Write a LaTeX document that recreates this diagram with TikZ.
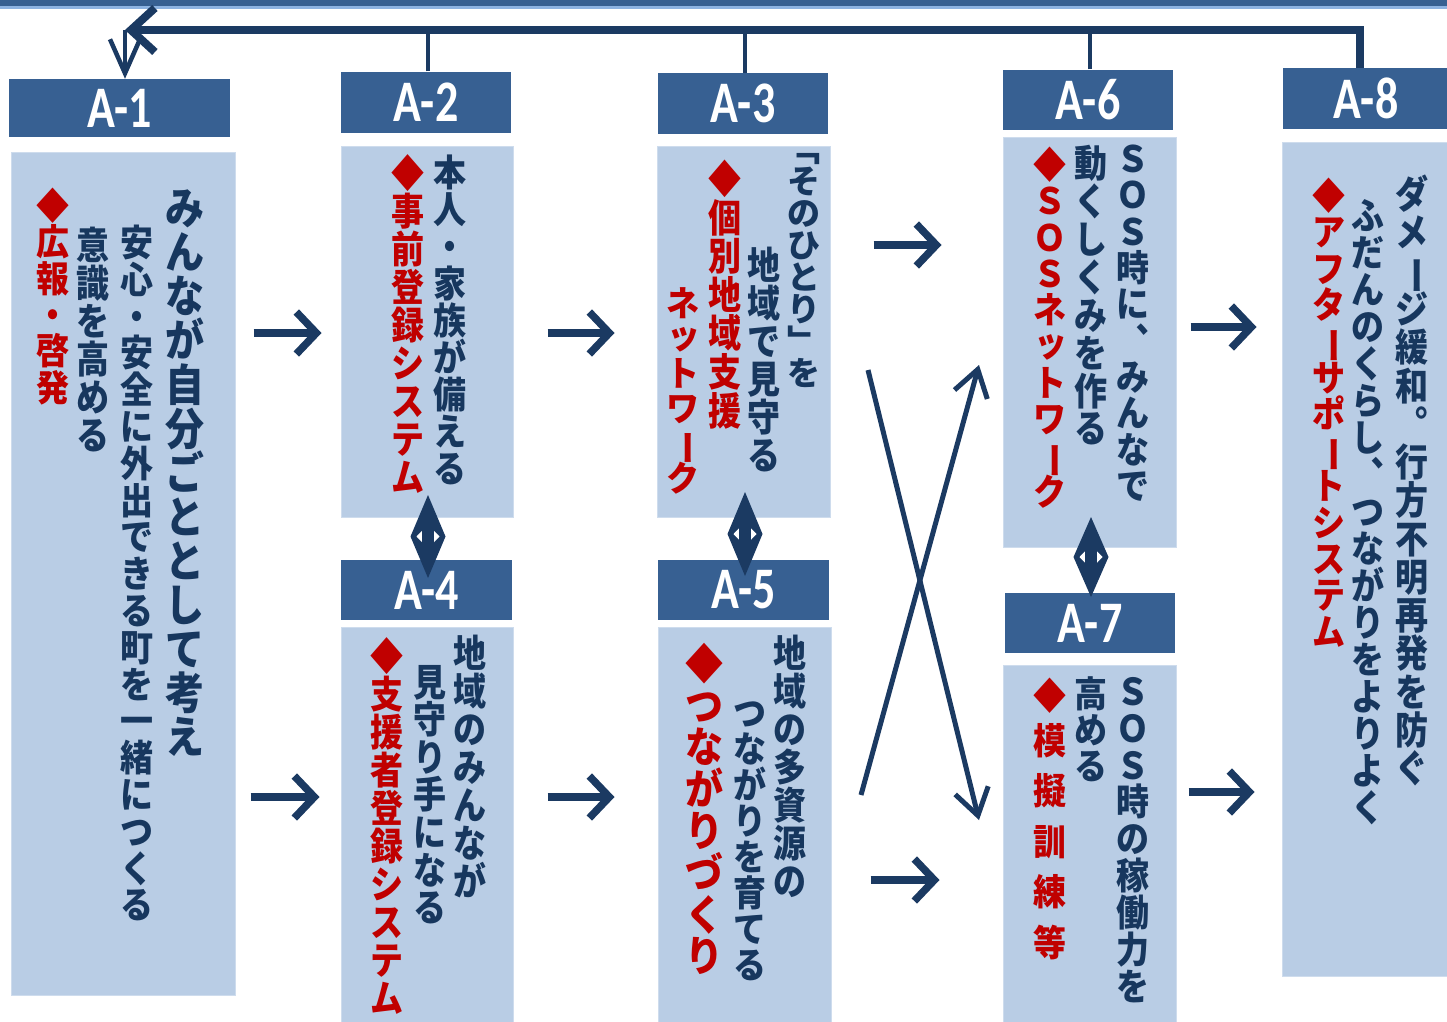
\documentclass[tikz,border=0pt]{standalone}
\usepackage{fontspec}
\usepackage{graphicx}
\usetikzlibrary{arrows.meta}
\newfontfamily\jp{Noto Sans CJK JP}
\newfontfamily\hdrfont{Carlito}
\definecolor{hdr}{HTML}{376092}
\definecolor{bodyc}{HTML}{B9CDE5}
\definecolor{navy}{HTML}{17375E}
\definecolor{arr}{HTML}{1B3A62}
\definecolor{redc}{HTML}{C00000}
\definecolor{lightline}{HTML}{8DB3E2}
% one upright character per line
\newcommand\vchar[1]{%
  \ifx#1ー\hbox to 1em{\hss\rotatebox[origin=c]{-90}{ー}\hss}%
  \else\ifx#1ッ\hbox to 1em{\hss\kern0.05em\raisebox{0.1em}{ッ}\hss}%
  \else\hbox to 1em{\hss#1\hss}\fi\fi}
\def\vstloop#1{\ifx\relax#1\else\vchar{#1}\expandafter\vstloop\fi}
% size, vertical stretch, pitch, characters
\newcommand\vstk[4]{\scalebox{1}[#2]{\fontsize{#1}{#1}\selectfont
  \vbox{\baselineskip=#3pt\lineskiplimit=-\maxdimen\lineskip=0pt\relax\vstloop#4\relax}}}
\newcommand\hl[1]{\scalebox{1}[1.28]{#1}}
\newcommand\dbl[3]{%
  \fill[arr] (#1,#2) -- (#1+17.5,{(#2+#3)/2}) -- (#1,#3) -- (#1-17.5,{(#2+#3)/2}) -- cycle;
  \fill[white] (#1,{(#2+#3)/2-12}) -- (#1+11.5,{(#2+#3)/2}) -- (#1,{(#2+#3)/2+12}) -- (#1-11.5,{(#2+#3)/2}) -- cycle;
  \fill[arr] (#1-6,{(#2+#3)/2-16}) rectangle (#1+6,{(#2+#3)/2+16});
}
\begin{document}
\begin{tikzpicture}[x=1pt,y=-1pt,
  hdrbox/.style={fill=hdr, text=white, inner sep=0, font=\hdrfont\bfseries\fontsize{46}{46}\selectfont},
  bodybox/.style={fill=bodyc, draw=bodyc!70!white, line width=1pt, inner sep=0},
  vcol/.style={anchor=north, inner sep=0, outer sep=0, font=\jp\bfseries, text=navy},
  vred/.style={vcol, text=redc},
  rarrow/.style={draw=arr, line width=7.5pt, -{Straight Barb[length=20pt,width=42pt]}},
  xarrow/.style={draw=arr, line width=5pt, -{Straight Barb[length=26pt,width=34pt]}},
  link/.style={draw=arr, line width=4pt}
]
\useasboundingbox (0,0) rectangle (1447,1021);
\clip (0,0) rectangle (1447,1021);
\fill[white] (0,0) rectangle (1447,1021);
\fill[hdr] (0,0) rectangle (1447,6);
\fill[lightline] (0,6) rectangle (1447,8.5);

% body boxes
\node[bodybox, minimum width=224, minimum height=843] (b1) at (123,573.5) {};
\node[bodybox, minimum width=172, minimum height=371] (b2) at (427,331.5) {};
\node[bodybox, minimum width=172, minimum height=400] (b4) at (427,827) {};
\node[bodybox, minimum width=173, minimum height=371] (b3) at (743.5,331.5) {};
\node[bodybox, minimum width=173, minimum height=400] (b5) at (744.5,827) {};
\node[bodybox, minimum width=173, minimum height=410] (b6) at (1089.5,342) {};
\node[bodybox, minimum width=173, minimum height=360] (b7) at (1089.5,845) {};
\node[bodybox, minimum width=166, minimum height=834] (b8) at (1365,559) {};

% headers
\node[hdrbox, minimum width=221, minimum height=58] (h1) at (119.5,108) {\hl{A-1}};
\node[hdrbox, minimum width=170, minimum height=61] (h2) at (426,102) {\hl{A-2}};
\node[hdrbox, minimum width=170, minimum height=61] (h3) at (743,103.5) {\hl{A-3}};
\node[hdrbox, minimum width=171, minimum height=60] (h4) at (426.5,590) {\hl{A-4}};
\node[hdrbox, minimum width=171, minimum height=60] (h5) at (743.5,590) {\hl{A-5}};
\node[hdrbox, minimum width=170, minimum height=60] (h6) at (1088,99.5) {\hl{A-6}};
\node[hdrbox, minimum width=170, minimum height=60] (h7) at (1090,623) {\hl{A-7}};
\node[hdrbox, minimum width=166, minimum height=61] (h8) at (1366,98.5) {\hl{A-8}};

% top feedback line
\coordinate (tl) at (125,30);
\draw[link] (h2.north -| 428,0) -- (428,30);
\draw[link] (h3.north -| 745,0) -- (745,30);
\draw[link] (h6.north -| 1090,0) -- (1090,30);
\draw[draw=arr, line width=8pt, -{Straight Barb[length=24pt,width=44pt]}] (h8.north -| 1360,0) |- (tl);
\draw[draw=arr, line width=4.5pt, -{Straight Barb[length=34pt,width=30pt]}] (tl) -- (tl |- h1.north);

% right arrows
\draw[rarrow, shorten <=18pt, shorten >=19pt] (b1.east |- 0,333) -- (b2.west |- 0,333);
\draw[rarrow, shorten <=15pt, shorten >=21pt] (b1.east |- 0,797) -- (b4.west |- 0,797);
\draw[rarrow, shorten <=34pt, shorten >=42pt] (b2.east |- 0,333) -- (b3.west |- 0,333);
\draw[rarrow, shorten <=34pt, shorten >=43pt] (b4.east |- 0,797) -- (b5.west |- 0,797);
\draw[rarrow, shorten <=43pt, shorten >=61pt] (b3.east |- 0,245) -- (b6.west |- 0,245);
\draw[rarrow, shorten <=39pt, shorten >=63pt] (b5.east |- 0,880) -- (b7.west |- 0,880);
\draw[rarrow, shorten <=14pt, shorten >=25pt] (b6.east |- 0,327) -- (b8.west |- 0,327);
\draw[rarrow, shorten <=12pt, shorten >=27pt] (b7.east |- 0,792) -- (b8.west |- 0,792);

% cross arrows
\coordinate (x1s) at (861,795);
\coordinate (x1e) at (979,365);
\coordinate (x2s) at (868,370);
\coordinate (x2e) at (979,820);
\draw[xarrow] (x1s) -- (x1e);
\draw[xarrow] (x2s) -- (x2e);

% double arrows
\dbl{428}{495}{578}
\dbl{745}{492}{576}
\dbl{1091}{517}{597}

% A-1 text
\node[vcol] (t11) at (185,190) {\vstk{39}{1.13}{39}{みんなが自分ごととして考え}};
\node[vcol] (t12) at (137,225) {\vstk{33}{1.115}{33}{安心・安全に外出できる町を一緒につくる}};
\node[vcol] (t13) at (93,227) {\vstk{33}{1.15}{33}{意識を高める}};
\node[vred] (t14) at (53,188) {\vstk{33}{1.1}{33}{◆広報・啓発}};
% A-2
\node[vcol] (t21) at (450,155) {\vstk{33}{1.12}{33}{本人・家族が備える}};
\node[vred] (t22) at (408,155) {\vstk{33}{1.15}{33}{◆事前登録システム}};
% A-4
\node[vcol] (t41) at (470,635) {\vstk{33}{1.15}{33}{地域のみんなが}};
\node[vcol] (t42) at (430,665) {\vstk{33}{1.14}{33}{見守り手になる}};
\node[vred] (t43) at (387,638) {\vstk{33}{1.15}{33}{◆支援者登録システム}};
% A-3
\node[vcol] (t31) at (804,153) {\vstk{33}{1.0}{32}{﹁そのひとり﹂を}};
\node[vcol] (t32) at (764,247) {\vstk{33}{1.15}{33}{地域で見守る}};
\node[vred] (t33) at (725,160) {\vstk{33}{1.17}{33}{◆個別地域支援}};
\node[vred] (t34) at (683,288) {\vstk{33}{1.06}{33}{ネットワーク}};
% A-5
\node[vcol] (t51) at (790,635) {\vstk{33}{1.15}{33}{地域の多資源の}};
\node[vcol] (t52) at (750,702) {\vstk{33}{1.09}{33}{つながりを育てる}};
\node[vred] (t53) at (704,643) {\vstk{38}{1.1}{38}{◆つながりづくり}};
% A-6
\node[vcol] (t61) at (1133,145) {\vstk{33}{1.1}{33}{ＳＯＳ時に︑みんなで}};
\node[vcol] (t62) at (1091,145) {\vstk{33}{1.15}{33}{動くしくみを作る}};
\node[vred] (t63) at (1050,147) {\vstk{33}{1.1}{33}{◆ＳＯＳネットワーク}};
% A-7
\node[vcol] (t71) at (1133,677) {\vstk{33}{1.12}{33}{ＳＯＳ時の稼働力を}};
\node[vcol] (t72) at (1091,677) {\vstk{33}{1.09}{33}{高める}};
\node[vred] (t73) at (1050,678) {\vstk{33}{1.1}{33}{◆}};
\node[vred] (t74) at (1050,723) {\vstk{33}{1.1}{46}{模擬訓練等}};
% A-8
\node[vcol] (t81) at (1412,175) {\vstk{33}{1.16}{33}{ダメージ緩和︒行方不明再発を防ぐ}};
\node[vcol] (t82) at (1368,200) {\vstk{33}{1.12}{33}{ふだんのくらし︑つながりをよりよく}};
\node[vred] (t83) at (1329,178) {\vstk{33}{1.1}{33}{◆アフターサポートシステム}};
\end{tikzpicture}
\end{document}
